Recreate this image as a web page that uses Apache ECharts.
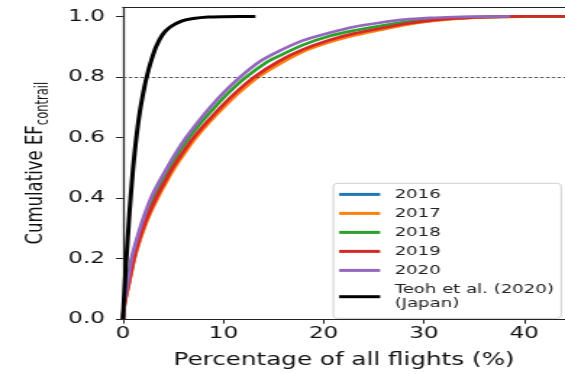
<!DOCTYPE html>
<html>
<head>
<meta charset="utf-8">
<script src="https://cdn.jsdelivr.net/npm/echarts@6/dist/echarts.min.js"></script>
<style>
  html, body { margin: 0; padding: 0; background: #fff; overflow: hidden; }
  /* the figure is laid out narrow and widened to the 565px frame */
  #chart { width: 390px; height: 374px; transform: scaleX(1.44872); transform-origin: 0 0; }
</style>
</head>
<body>
<div id="chart"></div>
<script>
// Cumulative contrail energy forcing vs share of flights, [percent of flights, cumulative fraction]
const cdf2016 = [[0,0],[0.145,0.05],[0.46,0.1],[0.79,0.15],[1.11,0.2],[1.54,0.25],[2.05,0.3],[2.66,0.35],[3.38,0.4],[4.18,0.45],[5.05,0.5],[6.06,0.55],[7.18,0.6],[8.48,0.65],[9.9,0.7],[11.48,0.75],[13.3,0.8],[15.6,0.848],[17.9,0.887],[20.6,0.918],[23,0.94],[25.6,0.957],[28,0.973],[30.6,0.985],[33,0.993],[35,0.996],[40,1.0],[46,1.0]];
const cdf2017 = [[0,0],[0.15,0.05],[0.48,0.1],[0.81,0.15],[1.14,0.2],[1.57,0.25],[2.1,0.3],[2.72,0.35],[3.45,0.4],[4.27,0.45],[5.15,0.5],[6.17,0.55],[7.3,0.6],[8.6,0.65],[10.05,0.7],[11.65,0.75],[13.5,0.8],[15.6,0.843],[17.9,0.883],[20.6,0.915],[23,0.937],[25.6,0.955],[28,0.971],[30.6,0.984],[33,0.992],[35,0.996],[40,0.999],[46,1.0]];
const cdf2018 = [[0,0],[0.11,0.05],[0.38,0.1],[0.65,0.15],[0.92,0.2],[1.33,0.25],[1.8,0.3],[2.35,0.35],[3.0,0.4],[3.75,0.45],[4.6,0.5],[5.55,0.55],[6.6,0.6],[7.8,0.65],[9.15,0.7],[10.6,0.75],[12.3,0.8],[14.4,0.85],[15.6,0.87],[17.9,0.905],[20.6,0.935],[23,0.953],[25.6,0.968],[28,0.981],[30.6,0.99],[33,0.996],[35,0.998],[40,1.0],[46,1.0]];
const cdf2019 = [[0,0],[0.14,0.05],[0.45,0.1],[0.77,0.15],[1.08,0.2],[1.5,0.25],[2.0,0.3],[2.6,0.35],[3.3,0.4],[4.1,0.45],[4.95,0.5],[5.95,0.55],[7.05,0.6],[8.35,0.65],[9.75,0.7],[11.3,0.75],[13.1,0.8],[15.6,0.853],[17.9,0.89],[20.6,0.922],[23,0.943],[25.6,0.96],[28,0.975],[30.6,0.986],[33,0.993],[35,0.997],[40,1.0],[46,1.0]];
const cdf2020 = [[0,0],[0.1,0.05],[0.35,0.1],[0.6,0.15],[0.85,0.2],[1.25,0.25],[1.7,0.3],[2.2,0.35],[2.8,0.4],[3.55,0.45],[4.4,0.5],[5.3,0.55],[6.3,0.6],[7.45,0.65],[8.7,0.7],[10.1,0.75],[11.7,0.8],[13.6,0.85],[15.6,0.886],[17.9,0.92],[20.6,0.946],[23,0.965],[25.6,0.979],[28,0.989],[30.6,0.995],[33,0.998],[35,0.999],[38.6,1.0]];
const cdfTeoh = [[0,0],[0.07,0.05],[0.15,0.1],[0.24,0.15],[0.34,0.2],[0.44,0.25],[0.54,0.3],[0.64,0.35],[0.76,0.4],[0.88,0.45],[1.01,0.5],[1.16,0.55],[1.33,0.6],[1.52,0.65],[1.75,0.7],[2.03,0.75],[2.36,0.8],[2.78,0.85],[3.3,0.9],[3.95,0.94],[4.7,0.965],[5.9,0.985],[7.0,0.993],[8.5,0.998],[10,0.999],[13.2,1.0]];

const seriesNames = ['2016', '2017', '2018', '2019', '2020', 'Teoh et al. (2020)\n(Japan)'];
const seriesData = [cdf2016, cdf2017, cdf2018, cdf2019, cdf2020, cdfTeoh];
const seriesColors = ['#1f77b4', '#ff7f0e', '#2ca02c', '#d62728', '#9467bd', '#000000'];

const xTickValues = [0, 10, 20, 30, 40];
const yTickValues = [0, 0.2, 0.4, 0.6, 0.8, 1.0];
const xRange = [0, 44.07];
const yRange = [0, 1.03];
const refLevel = 0.8;

const axisColor = '#222';
const font = 'DejaVu Sans';

const chart = echarts.init(document.getElementById('chart'));

const series = seriesNames.map((name, i) => {
  const s = {
    name: name,
    type: 'line',
    data: seriesData[i],
    showSymbol: false,
    smooth: 0.2,
    color: seriesColors[i],
    lineStyle: { width: i === 5 ? 3 : 2.7, color: seriesColors[i] },
    z: 3 + i
  };
  if (i === 0) {
    s.markLine = {
      silent: true,
      symbol: ['none', 'none'],
      label: { show: false },
      lineStyle: { type: [2.4, 1.6], color: '#555', width: 1 },
      data: [{ yAxis: refLevel }],
      animation: false
    };
  }
  return s;
});

chart.setOption({
  animation: false,
  backgroundColor: '#fff',
  grid: { left: 84.9, right: 0, top: 7.3, bottom: 53 },
  xAxis: [{
    type: 'value',
    min: xRange[0],
    max: xRange[1],
    splitLine: { show: false },
    axisLine: { show: true, onZero: false, lineStyle: { color: axisColor, width: 1.2 } },
    axisTick: { show: true, length: 4.7, customValues: xTickValues, lineStyle: { color: axisColor, width: 1 } },
    axisLabel: { customValues: xTickValues, margin: 7, fontFamily: font, fontSize: 16, color: '#111', formatter: v => String(v) },
    name: 'Percentage of all flights (%)',
    nameLocation: 'middle',
    nameGap: 33,
    nameTextStyle: { fontFamily: font, fontSize: 17, color: '#111' }
  }, {
    type: 'value',
    position: 'top',
    min: xRange[0],
    max: xRange[1],
    splitLine: { show: false },
    axisLine: { show: true, onZero: false, lineStyle: { color: axisColor, width: 1.2 } },
    axisTick: { show: false },
    axisLabel: { show: false }
  }],
  yAxis: {
    type: 'value',
    min: yRange[0],
    max: yRange[1],
    splitLine: { show: false },
    axisLine: { show: true, onZero: false, lineStyle: { color: axisColor, width: 1.3 } },
    axisTick: { show: true, length: 4.8, customValues: yTickValues, lineStyle: { color: axisColor, width: 1 } },
    axisLabel: { customValues: yTickValues, margin: 12.5, fontFamily: font, fontSize: 16, color: '#111', formatter: v => v.toFixed(1) },
    name: '{a|Cumulative EF}{b|contrail}',
    nameLocation: 'middle',
    nameGap: 36.5,
    nameTextStyle: {
      color: '#111',
      rich: {
        a: { fontFamily: font, fontSize: 16.5, lineHeight: 22, color: '#111' },
        b: { fontFamily: font, fontSize: 11.5, lineHeight: 11.5, verticalAlign: 'bottom', color: '#111' }
      }
    }
  },
  legend: {
    orient: 'vertical',
    left: 230.1,
    top: 183.3,
    padding: [3.8, 5, 7, 4],
    itemGap: 4.4,
    itemWidth: 28.3,
    itemHeight: 3,
    icon: 'rect',
    backgroundColor: 'rgba(255,255,255,0.85)',
    borderColor: '#cfcfcf',
    borderWidth: 1,
    borderRadius: 3,
    textStyle: { fontFamily: font, fontSize: 12.5, lineHeight: 14.6, color: '#222', padding: [0, 0, 0, 5] },
    data: seriesNames
  },
  series: series
});
</script>
</body>
</html>
